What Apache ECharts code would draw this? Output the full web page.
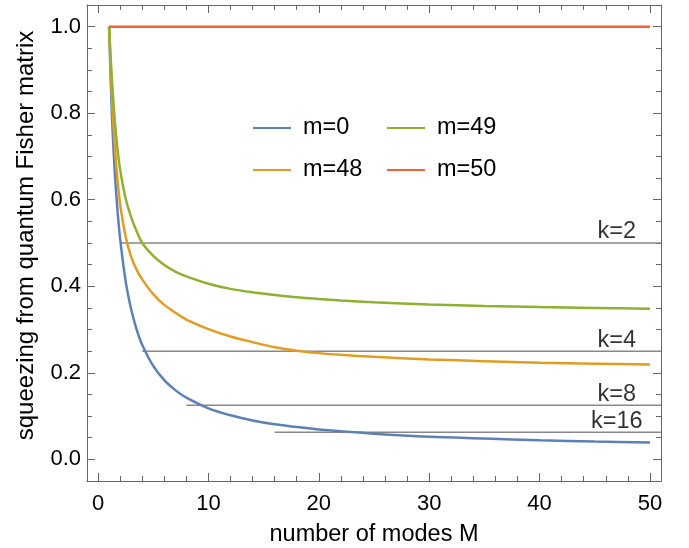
<!DOCTYPE html>
<html><head><meta charset="utf-8">
<script src="https://cdn.jsdelivr.net/npm/echarts@6/dist/echarts.min.js"></script>
<style>html,body{margin:0;padding:0;background:#fff}#c{width:689px;height:548px}</style>
</head><body><div id="c"></div>
<script>
// ---- data ----
const M   = [1, 1.25, 1.5, 1.75, 2, 2.5, 3, 3.5, 4, 5, 6, 7, 8, 10, 12, 14, 16, 18, 20, 22, 25, 30, 35, 40, 45, 50];
const m0  = [1.0, 0.80, 0.67, 0.58, 0.51, 0.412, 0.347, 0.30, 0.265, 0.216, 0.183, 0.160, 0.1425, 0.118, 0.102, 0.090, 0.081, 0.075, 0.069, 0.065, 0.059, 0.052, 0.048, 0.044, 0.041, 0.039];
const m48 = [1.0, 0.84, 0.73, 0.65, 0.59, 0.515, 0.468, 0.438, 0.416, 0.382, 0.357, 0.339, 0.323, 0.301, 0.284, 0.271, 0.259, 0.251, 0.2455, 0.2415, 0.237, 0.231, 0.227, 0.223, 0.221, 0.219];
const m49 = [1.0, 0.88, 0.79, 0.72, 0.67, 0.603, 0.56, 0.527, 0.50, 0.47, 0.449, 0.434, 0.423, 0.406, 0.394, 0.386, 0.380, 0.3745, 0.3705, 0.367, 0.363, 0.358, 0.3545, 0.352, 0.350, 0.348];
const m50M = [1, 50];
const m50  = [1.0, 1.0];
const seriesNames = ['m=0', 'm=48', 'm=49', 'm=50'];
const kValues = [2, 4, 8, 16];
const kLevels = [0.5, 0.25, 0.125, 0.0625];
const kLabels = ['k=2', 'k=4', 'k=8', 'k=16'];
const kEndM = 51;
const kLabelM = 47;
const xMajor = [0, 10, 20, 30, 40, 50];
const xMinor = [2,4,6,8,12,14,16,18,22,24,26,28,32,34,36,38,42,44,46,48];
const yMajor = [0, 0.2, 0.4, 0.6, 0.8, 1.0];
const yMinor = [0.05,0.1,0.15,0.25,0.3,0.35,0.45,0.5,0.55,0.65,0.7,0.75,0.85,0.9,0.95];

// ---- styling ----
const FONT = "'Liberation Sans', Arial, Helvetica, sans-serif";
const FS = 22;
const FT = 23.5;
const frame = '#666666';
const colors = ['#5E81B5', '#E19C24', '#8FB032', '#EB6235'];
const X = {min: -1, max: 51};
const Y = {min: -0.05, max: 1.05};

function xAx(pos, vals, len, main) {
  return {
    type: 'value', position: pos, min: X.min, max: X.max,
    axisLine: {show: main, onZero: false, lineStyle: {color: frame, width: 1}},
    axisTick: {show: true, inside: true, length: len, customValues: vals, lineStyle: {color: frame, width: 1}},
    axisLabel: (main && pos === 'bottom') ? {show: true, customValues: xMajor, margin: 12, color: '#000', fontSize: FS, fontFamily: FONT} : {show: false},
    splitLine: {show: false},
    name: (main && pos === 'bottom') ? 'number of modes M' : '',
    nameLocation: 'middle', nameGap: 42,
    nameTextStyle: {color: '#000', fontSize: FT, fontFamily: FONT}
  };
}
function yAx(pos, vals, len, main) {
  return {
    type: 'value', position: pos, min: Y.min, max: Y.max,
    axisLine: {show: main, onZero: false, lineStyle: {color: frame, width: 1}},
    axisTick: {show: true, inside: true, length: len, customValues: vals, lineStyle: {color: frame, width: 1}},
    axisLabel: (main && pos === 'left') ? {show: true, customValues: yMajor, margin: 6, color: '#000', fontSize: FS, fontFamily: FONT, formatter: v => v.toFixed(1)} : {show: false},
    splitLine: {show: false},
    name: (main && pos === 'left') ? 'squeezing from quantum Fisher matrix' : '',
    nameLocation: 'middle', nameGap: 49,
    nameTextStyle: {color: '#000', fontSize: 24, fontFamily: FONT, padding: [0, 0, 0, 15]}
  };
}

const curveData = [M.map((x, i) => [x, m0[i]]), M.map((x, i) => [x, m48[i]]), M.map((x, i) => [x, m49[i]]), m50M.map((x, i) => [x, m50[i]])];

const series = [];
kValues.forEach((k, i) => {
  series.push({
    type: 'line', silent: true, symbol: 'none', z: 1,
    data: [[k, kLevels[i]], [kEndM, kLevels[i]]],
    lineStyle: {color: '#888888', width: 1.5}
  });
  series.push({
    type: 'scatter', silent: true, symbolSize: 0, z: 5,
    data: [[kLabelM, kLevels[i]]],
    label: {show: true, position: 'top', distance: -1, formatter: kLabels[i], color: '#000', fontSize: FT, fontFamily: FONT}
  });
});
seriesNames.forEach((n, i) => {
  series.push({
    name: n, type: 'line', symbol: 'none', smooth: 0.3, z: 3,
    data: curveData[i], color: colors[i],
    lineStyle: {color: colors[i], width: 2.5}
  });
});

const legendCommon = {
  orient: 'vertical', top: 116, padding: 0, itemWidth: 38, itemHeight: 22, itemGap: 18,
  itemStyle: {color: 'rgba(0,0,0,0)', borderWidth: 0, opacity: 0},
  textStyle: {fontSize: FT, fontFamily: FONT, color: '#000', padding: [0, 0, 0, 7]}
};

const chart = echarts.init(document.getElementById('c'), null, {renderer: 'canvas'});
chart.setOption({
  animation: false,
  backgroundColor: '#fff',
  grid: {left: 87, right: 28, top: 5, bottom: 67, containLabel: false, outerBoundsMode: 'none'},
  legend: [
    Object.assign({left: 252, data: ['m=0', 'm=48']}, legendCommon),
    Object.assign({left: 386, data: ['m=49', 'm=50']}, legendCommon)
  ],
  xAxis: [xAx('bottom', xMajor, 8, true), xAx('bottom', xMinor, 5, false), xAx('top', xMajor, 8, true), xAx('top', xMinor, 5, false)],
  yAxis: [yAx('left', yMajor, 8, true), yAx('left', yMinor, 5, false), yAx('right', yMajor, 8, true), yAx('right', yMinor, 5, false)],
  series: series
});
</script>
</body></html>
